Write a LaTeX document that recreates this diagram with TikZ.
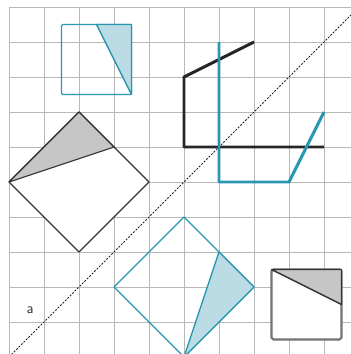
\documentclass[tikz,border=0pt]{standalone}
\usepackage{xcolor}
\usepackage{tikz}
\usetikzlibrary{calc}

\definecolor{tealline}{HTML}{2A97B0}
\definecolor{tealfill}{HTML}{BBDCE4}
\definecolor{shadegray}{HTML}{C6C6C6}
\definecolor{gridgray}{HTML}{B8B8B8}

\begin{document}
\begin{tikzpicture}[line join=round,
    gridline/.style={gridgray, line width=0.8pt},
    mirror/.style={black!85, line width=0.8pt, dash pattern=on 1.6pt off 1.2pt},
    thinteal/.style={tealline, line width=1.1pt},
    thickteal/.style={tealline, line width=2.4pt},
    thickblack/.style={black!85, line width=2.4pt}]
    \clip (-0.257,-0.914) rectangle (9.771,9.2);
    \fill[white] (-0.257,-0.914) rectangle (9.771,9.2);
    \draw[gridline, step=1] (0,-0.914) grid (9.771,9);

    % mirror line y = x - 1
    \draw[mirror] (0,-1) -- (10.5,9.5);

    % top teal square
    \draw[thinteal, rounded corners=1pt] (1.5,6.5) rectangle (3.5,8.5);
    \filldraw[thinteal, fill=tealfill] (2.5,8.5) -- (3.5,8.5) -- (3.5,6.5) -- cycle;

    % black diamond
    \coordinate (T) at (2,6);
    \filldraw[black!80, line width=0.9pt, fill=white] (0,4) -- (T) -- (4,4) -- (2,2) -- cycle;
    \filldraw[black!80, line width=0.9pt, fill=shadegray] (0,4) -- (T) -- ($(T)!0.5!(4,4)$) -- cycle;

    % polylines
    \draw[thickblack] (7,8) -- (5,7) -- (5,5) -- (9,5);
    \draw[thickteal] (6,8) -- (6,4) -- (8,4) -- (9,6);

    % teal diamond
    \draw[thinteal] (3,1) -- (5,3) -- (7,1) -- (5,-1) -- cycle;
    \filldraw[thinteal, fill=tealfill] (5,-1) -- (6,2) -- (7,1) -- cycle;

    % bottom square
    \filldraw[black!55, line width=1.8pt, fill=white, rounded corners=1.5pt] (7.5,-0.5) rectangle (9.5,1.5);
    \filldraw[black!80, line width=1.2pt, fill=shadegray] (7.5,1.5) -- (9.5,1.5) -- (9.5,0.5) -- cycle;

    \node[black!80, font=\sffamily\large] (a) at (0.6,0.34) {a};
\end{tikzpicture}
\end{document}
